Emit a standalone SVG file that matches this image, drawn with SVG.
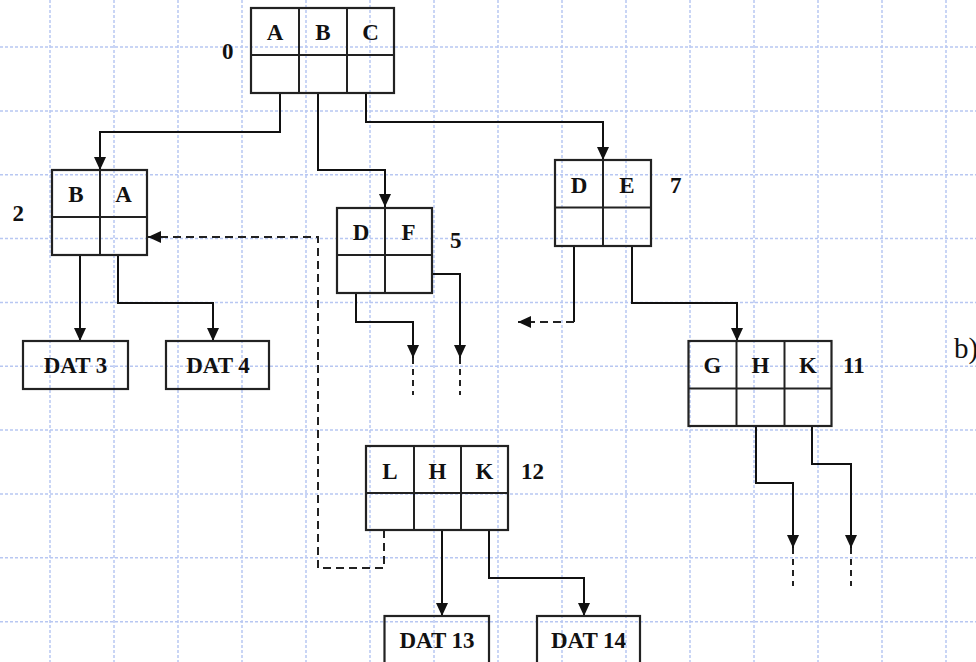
<svg xmlns="http://www.w3.org/2000/svg" width="976" height="662" viewBox="0 0 976 662">
<defs>
<marker id="arr" markerUnits="userSpaceOnUse" markerWidth="14" markerHeight="13" refX="13" refY="6" orient="auto">
<path d="M0,0 L13,6 L0,12 z" fill="#111"/>
</marker>
<style>
.grid line{stroke:#b8c7f2;stroke-width:1.5;stroke-dasharray:3 2}
.box{fill:none;stroke:#222;stroke-width:2.2}
.cell{stroke:#222;stroke-width:2}
.lbl{font-family:"Liberation Serif","Times New Roman",serif;font-weight:bold;font-size:23px;fill:#111;text-anchor:middle}
.num{font-family:"Liberation Serif","Times New Roman",serif;font-weight:bold;font-size:23px;fill:#111}
.c{fill:none;stroke:#111;stroke-width:2}
.d{fill:none;stroke:#222;stroke-width:2;stroke-dasharray:8 5}
.ds{fill:none;stroke:#222;stroke-width:2;stroke-dasharray:6 5}
</style>
</defs>
<rect width="976" height="662" fill="#fff"/>
<g class="grid">
<line x1="50" y1="0" x2="50" y2="662"/><line x1="114" y1="0" x2="114" y2="662"/><line x1="178" y1="0" x2="178" y2="662"/><line x1="242" y1="0" x2="242" y2="662"/><line x1="306" y1="0" x2="306" y2="662"/><line x1="370" y1="0" x2="370" y2="662"/><line x1="434" y1="0" x2="434" y2="662"/><line x1="498" y1="0" x2="498" y2="662"/><line x1="562" y1="0" x2="562" y2="662"/><line x1="626" y1="0" x2="626" y2="662"/><line x1="690" y1="0" x2="690" y2="662"/><line x1="754" y1="0" x2="754" y2="662"/><line x1="818" y1="0" x2="818" y2="662"/><line x1="882" y1="0" x2="882" y2="662"/><line x1="946" y1="0" x2="946" y2="662"/>
<line x1="0" y1="47" x2="976" y2="47"/><line x1="0" y1="110.9" x2="976" y2="110.9"/><line x1="0" y1="174.7" x2="976" y2="174.7"/><line x1="0" y1="238.6" x2="976" y2="238.6"/><line x1="0" y1="302.4" x2="976" y2="302.4"/><line x1="0" y1="366.3" x2="976" y2="366.3"/><line x1="0" y1="430.1" x2="976" y2="430.1"/><line x1="0" y1="494" x2="976" y2="494"/><line x1="0" y1="557.8" x2="976" y2="557.8"/><line x1="0" y1="621.7" x2="976" y2="621.7"/>
</g>
<g id="connectors">
<path class="c" d="M280,93 V132 H100 V170" marker-end="url(#arr)"/>
<path class="c" d="M318,93 V170 H385 V207" marker-end="url(#arr)"/>
<path class="c" d="M366,93 V122 H603 V160" marker-end="url(#arr)"/>
<path class="c" d="M80,255 V341" marker-end="url(#arr)"/>
<path class="c" d="M118,255 V303 H213 V341" marker-end="url(#arr)"/>
<path class="c" d="M356,293 V322 H413 V358" marker-end="url(#arr)"/>
<path class="ds" d="M413,358 V395"/>
<path class="c" d="M432,274 H460 V358" marker-end="url(#arr)"/>
<path class="ds" d="M460,358 V395"/>
<path class="c" d="M574,246 V322"/>
<path class="d" d="M574,322 H518" marker-end="url(#arr)"/>
<path class="c" d="M632,246 V303 H737 V341" marker-end="url(#arr)"/>
<path class="c" d="M756,426 V483 H793 V548" marker-end="url(#arr)"/>
<path class="ds" d="M793,548 V586"/>
<path class="c" d="M812,426 V464 H851 V548" marker-end="url(#arr)"/>
<path class="ds" d="M851,548 V586"/>
<path class="d" d="M384,530 V568 H318 V237 H148" marker-end="url(#arr)"/>
<path class="c" d="M442,530 V616" marker-end="url(#arr)"/>
<path class="c" d="M489,530 V578 H584 V616" marker-end="url(#arr)"/>
</g>
<g id="node0">
<rect class="box" x="251" y="8" width="143" height="85"/>
<line class="cell" x1="251" y1="55" x2="394" y2="55"/>
<line class="cell" x1="299" y1="8" x2="299" y2="93"/>
<line class="cell" x1="347" y1="8" x2="347" y2="93"/>
<text class="lbl" x="275" y="40">A</text><text class="lbl" x="323" y="40">B</text><text class="lbl" x="370.5" y="40">C</text>
<text class="num" x="222" y="59">0</text>
</g>
<g id="node2">
<rect class="box" x="52" y="170" width="95" height="85"/>
<line class="cell" x1="52" y1="217" x2="147" y2="217"/>
<line class="cell" x1="100" y1="170" x2="100" y2="255"/>
<text class="lbl" x="76" y="202">B</text><text class="lbl" x="123.5" y="202">A</text>
<text class="num" x="12.5" y="221">2</text>
</g>
<g id="node5">
<rect class="box" x="337" y="208" width="95" height="85"/>
<line class="cell" x1="337" y1="255" x2="432" y2="255"/>
<line class="cell" x1="385" y1="208" x2="385" y2="293"/>
<text class="lbl" x="361" y="240">D</text><text class="lbl" x="408.5" y="240">F</text>
<text class="num" x="450" y="248">5</text>
</g>
<g id="node7">
<rect class="box" x="555" y="160" width="96" height="86"/>
<line class="cell" x1="555" y1="207.5" x2="651" y2="207.5"/>
<line class="cell" x1="603" y1="160" x2="603" y2="246"/>
<text class="lbl" x="579" y="193">D</text><text class="lbl" x="627" y="193">E</text>
<text class="num" x="670" y="193">7</text>
</g>
<g id="node11">
<rect class="box" x="688.5" y="341" width="143" height="85"/>
<line class="cell" x1="688.5" y1="388.5" x2="831.5" y2="388.5"/>
<line class="cell" x1="736.5" y1="341" x2="736.5" y2="426"/>
<line class="cell" x1="784.5" y1="341" x2="784.5" y2="426"/>
<text class="lbl" x="712.5" y="373">G</text><text class="lbl" x="760.5" y="373">H</text><text class="lbl" x="808" y="373">K</text>
<text class="num" x="843" y="373">11</text>
</g>
<g id="node12">
<rect class="box" x="366" y="446" width="142" height="84"/>
<line class="cell" x1="366" y1="493" x2="508" y2="493"/>
<line class="cell" x1="414" y1="446" x2="414" y2="530"/>
<line class="cell" x1="461" y1="446" x2="461" y2="530"/>
<text class="lbl" x="390" y="479">L</text><text class="lbl" x="437.5" y="479">H</text><text class="lbl" x="484.5" y="479">K</text>
<text class="num" x="521" y="479">12</text>
</g>
<g id="dat3">
<rect class="box" x="23" y="341" width="105" height="48"/>
<text class="lbl" x="75.5" y="373">DAT 3</text>
</g>
<g id="dat4">
<rect class="box" x="166" y="341" width="103" height="48"/>
<text class="lbl" x="218" y="373">DAT 4</text>
</g>
<g id="dat13">
<rect class="box" x="384.5" y="616" width="104.5" height="48"/>
<text class="lbl" x="437" y="648">DAT 13</text>
</g>
<g id="dat14">
<rect class="box" x="537" y="616" width="103" height="48"/>
<text class="lbl" x="588.5" y="648">DAT 14</text>
</g>
<text x="954" y="358" font-family="'Liberation Serif','Times New Roman',serif" font-size="29" fill="#111">b)</text>
</svg>
